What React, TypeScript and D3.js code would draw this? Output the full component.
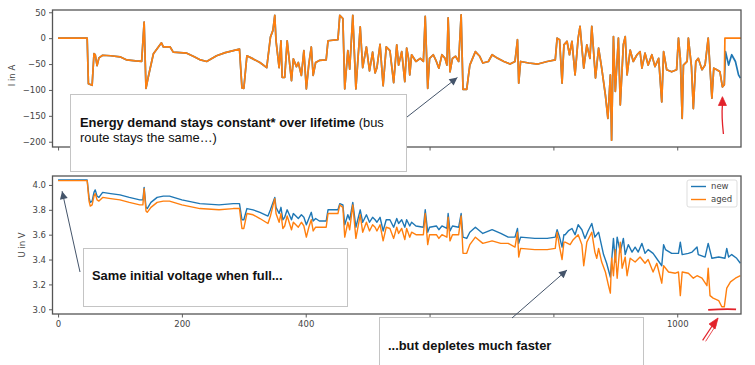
import React, { useEffect, useRef } from 'react';
import * as d3 from 'd3';

type Pt = [number, number];

// current in A, identical for both cells until the aged one cuts off
const currentShared: Pt[] = [
  [0, 0], [47, 0], [49, -88], [55, -91], [58, -30], [60, -32], [63, -53], [66, -38], [72, -33], [85, -34],
  [100, -36], [111, -42], [125, -44], [135, -45], [139, 31], [142, -97], [146, -73], [154, -30], [162, -17],
  [167, -9], [170, -17], [181, -17], [186, -27], [208, -29], [220, -36], [230, -42], [240, -45], [256, -34],
  [270, -28], [283, -24], [293, -21], [297, -96], [300, -97], [305, -34], [315, -40], [326, -47], [337, -57],
  [343, 2], [347, 15], [350, 44], [352, -5], [357, -57], [360, -5], [362, -76], [366, -76], [370, -5],
  [377, -82], [380, -40], [385, -55], [388, -47], [393, -72], [397, -24], [401, -98], [405, -50], [409, -17],
  [412, -72], [416, -47], [422, -43], [433, -42], [436, -5], [452, -3], [455, 44], [460, 38], [463, -98],
  [468, -24], [471, -60], [476, 44], [481, -98], [488, 22], [492, -57], [498, -17], [503, -63], [508, -27],
  [512, -67], [515, -57], [520, -12], [525, -92], [530, -17], [536, -24], [542, -86], [547, -13], [550, -52],
  [555, -26], [560, -84], [563, -19], [566, -39], [568, -71], [571, -32], [578, -45], [585, -39], [590, -45],
  [593, 42], [597, -97], [600, -39], [606, -32], [611, -45], [615, -58], [620, -32], [625, -39], [628, -52],
  [630, 39], [633, -65], [637, -39], [642, -35], [647, -45], [651, 45], [654, -99], [660, -99], [665, -52],
  [674, -26], [681, -35], [686, -48], [695, -45], [701, -32], [710, -39], [720, -45], [730, -50], [738, -45],
  [742, -3], [744, -87], [747, -45], [760, -48], [775, -50], [790, -45], [803, -42], [806, 0], [810, -3],
  [814, -87], [817, -13], [822, -6], [826, -32], [830, -6], [835, -71], [840, 0], [843, 23], [849, -58],
  [854, -13], [859, -39], [862, 23], [868, -77], [873, -19], [878, -58], [884, -110], [888, -155], [892, -71],
  [894, -197], [897, 3], [900, -103], [905, 0], [908, -129], [913, -12], [916, 3], [919, -71], [924, -23],
  [929, -45], [935, -32], [940, -26], [943, -58], [948, -29], [953, -52], [959, -32], [964, -55], [970, -39],
  [975, -123], [978, -26], [983, -61], [991, -65], [999, -61], [1002, 0], [1005, -39], [1008, -155],
  [1010, -52], [1016, -45], [1018, 0], [1023, -55], [1026, -136], [1030, -45], [1034, -39], [1040, -61],
  [1045, -52], [1050, 0], [1056, -116], [1059, -58], [1064, -61], [1069, -65], [1073, -94], [1076, -90],
];
const currentNewTail: Pt[] = [[1078, -26], [1083, -52], [1088, -32], [1094, -45], [1099, -71], [1102, -77]];
const currentAgedTail: Pt[] = [[1077, 0], [1103, 0]];

// terminal voltage in V
const voltageNew: Pt[] = [
  [0, 4.04], [47, 4.04], [50, 3.9], [52, 3.86], [55, 3.87], [58, 3.94], [60, 3.96], [63, 3.91], [66, 3.9],
  [72, 3.94], [85, 3.93], [100, 3.92], [115, 3.9], [132, 3.88], [137, 3.88], [139, 3.98], [142, 3.82],
  [144, 3.81], [150, 3.86], [160, 3.9], [170, 3.91], [180, 3.91], [200, 3.88], [229, 3.85], [260, 3.84],
  [283, 3.85], [293, 3.85], [297, 3.72], [300, 3.72], [305, 3.81], [315, 3.8], [326, 3.78], [339, 3.75],
  [343, 3.8], [350, 3.9], [352, 3.82], [357, 3.77], [360, 3.82], [363, 3.72], [366, 3.74], [370, 3.8],
  [377, 3.72], [380, 3.77], [388, 3.73], [393, 3.76], [397, 3.74], [401, 3.68], [405, 3.73], [409, 3.78],
  [412, 3.71], [416, 3.73], [422, 3.71], [433, 3.71], [436, 3.8], [452, 3.8], [455, 3.85], [460, 3.84],
  [463, 3.68], [468, 3.76], [471, 3.72], [476, 3.86], [481, 3.66], [488, 3.8], [492, 3.7], [498, 3.76],
  [503, 3.7], [508, 3.74], [512, 3.72], [515, 3.7], [520, 3.74], [525, 3.63], [530, 3.72], [536, 3.72],
  [542, 3.66], [547, 3.73], [550, 3.69], [555, 3.72], [560, 3.66], [563, 3.72], [568, 3.67], [571, 3.7],
  [578, 3.67], [590, 3.66], [593, 3.8], [597, 3.62], [600, 3.66], [611, 3.67], [615, 3.64], [620, 3.67],
  [628, 3.65], [630, 3.77], [633, 3.63], [637, 3.67], [647, 3.66], [651, 3.77], [654, 3.58], [660, 3.57],
  [665, 3.62], [674, 3.66], [686, 3.61], [701, 3.64], [715, 3.61], [727, 3.58], [738, 3.58], [742, 3.65],
  [744, 3.53], [747, 3.58], [770, 3.57], [790, 3.57], [803, 3.58], [806, 3.64], [810, 3.58], [814, 3.5],
  [817, 3.6], [819, 3.6], [824, 3.63], [830, 3.65], [835, 3.6], [840, 3.68], [846, 3.64], [851, 3.57],
  [856, 3.63], [862, 3.69], [867, 3.58], [873, 3.62], [881, 3.44], [886, 3.37], [892, 3.26], [897, 3.57],
  [900, 3.38], [903, 3.58], [908, 3.46], [913, 3.57], [916, 3.44], [921, 3.52], [927, 3.46], [932, 3.5],
  [937, 3.46], [943, 3.53], [948, 3.45], [953, 3.48], [961, 3.45], [975, 3.35], [978, 3.52], [981, 3.48],
  [991, 3.45], [1002, 3.45], [1005, 3.54], [1008, 3.44], [1018, 3.45], [1024, 3.46], [1032, 3.5],
  [1034, 3.44], [1045, 3.42], [1050, 3.53], [1056, 3.41], [1067, 3.42], [1077, 3.41], [1080, 3.49],
  [1083, 3.42], [1088, 3.44], [1096, 3.41], [1102, 3.37],
];
const voltageAged: Pt[] = [
  [0, 4.035], [47, 4.035], [50, 3.87], [52, 3.83], [55, 3.84], [58, 3.91], [60, 3.93], [63, 3.88], [66, 3.87],
  [72, 3.9], [85, 3.89], [100, 3.88], [115, 3.86], [132, 3.84], [137, 3.84], [139, 3.97], [142, 3.79],
  [144, 3.78], [150, 3.82], [160, 3.86], [170, 3.87], [180, 3.87], [200, 3.84], [229, 3.81], [260, 3.8],
  [283, 3.81], [293, 3.81], [297, 3.65], [300, 3.65], [305, 3.77], [315, 3.76], [326, 3.73], [339, 3.69],
  [343, 3.75], [350, 3.89], [352, 3.77], [357, 3.7], [360, 3.77], [363, 3.65], [366, 3.67], [370, 3.75],
  [377, 3.64], [380, 3.7], [388, 3.66], [393, 3.7], [397, 3.67], [401, 3.58], [405, 3.66], [409, 3.72],
  [412, 3.63], [416, 3.66], [422, 3.66], [433, 3.66], [436, 3.77], [452, 3.77], [455, 3.84], [460, 3.82],
  [463, 3.58], [468, 3.7], [471, 3.64], [476, 3.84], [481, 3.57], [488, 3.76], [492, 3.62], [498, 3.7],
  [503, 3.63], [508, 3.68], [512, 3.66], [515, 3.63], [520, 3.68], [525, 3.55], [530, 3.66], [536, 3.65],
  [542, 3.57], [547, 3.66], [550, 3.61], [555, 3.65], [560, 3.56], [563, 3.65], [568, 3.58], [571, 3.62],
  [578, 3.6], [590, 3.6], [593, 3.77], [597, 3.52], [600, 3.6], [611, 3.6], [615, 3.57], [620, 3.6],
  [628, 3.58], [630, 3.74], [633, 3.55], [637, 3.6], [647, 3.6], [651, 3.75], [654, 3.45], [660, 3.45],
  [665, 3.52], [674, 3.58], [686, 3.53], [701, 3.55], [715, 3.53], [727, 3.53], [738, 3.5], [742, 3.62],
  [744, 3.42], [747, 3.49], [770, 3.48], [790, 3.48], [803, 3.49], [806, 3.62], [810, 3.5], [814, 3.4],
  [817, 3.54], [819, 3.54], [827, 3.52], [832, 3.56], [840, 3.6], [846, 3.52], [849, 3.35], [854, 3.54],
  [862, 3.62], [867, 3.46], [870, 3.41], [873, 3.49], [878, 3.38], [884, 3.3], [889, 3.19], [892, 3.13],
  [894, 3.41], [897, 3.27], [900, 3.48], [903, 3.25], [908, 3.54], [911, 3.33], [916, 3.42], [919, 3.27],
  [924, 3.41], [932, 3.38], [940, 3.42], [948, 3.37], [953, 3.4], [961, 3.3], [967, 3.37], [975, 3.21],
  [978, 3.35], [986, 3.3], [997, 3.29], [1002, 3.3], [1005, 3.11], [1008, 3.3], [1018, 3.29], [1026, 3.25],
  [1032, 3.27], [1040, 3.25], [1048, 3.19], [1050, 3.33], [1053, 3.11], [1058, 3.09], [1067, 3.07],
  [1072, 3.02], [1076, 3.02], [1080, 3.17], [1086, 3.22], [1094, 3.25], [1102, 3.27],
];

const xTicks = [0, 200, 400, 600, 800, 1000];
const currentTicks = [50, 0, -50, -100, -150, -200];
const voltageTicks = [4.0, 3.8, 3.6, 3.4, 3.2, 3.0];
const seriesNames = ['new', 'aged'];
const seriesColors = ['#1f77b4', '#ff7f0e'];

const W = 755;
const H = 365;
const AX_FONT = 'DejaVu Sans, sans-serif';
const NOTE_FONT = 'Liberation Sans, Arial, sans-serif';
const NOTE_SIZE = '12.9px';
const SLATE = '#44546a';
const RED = '#e2222a';

const App: React.FC = () => {
  const ref = useRef<SVGSVGElement>(null);

  useEffect(() => {
    if (!ref.current) return;
    const svg = d3.select(ref.current);
    svg.selectAll('*').remove();

    const left = 52.5;
    const right = 741;
    const top1 = 10, bot1 = 147;
    const top2 = 176, bot2 = 314;

    const x = d3.scaleLinear().domain([-9, 1103]).range([left, right]);
    const yI = d3.scaleLinear().domain([-210.2, 54.4]).range([bot1, top1]);
    const yU = d3.scaleLinear().domain([2.962, 4.072]).range([bot2, top2]);

    const defs = svg.append('defs');
    defs.append('clipPath').attr('id', 'c1').append('rect')
      .attr('x', left).attr('y', top1).attr('width', right - left).attr('height', bot1 - top1);
    defs.append('clipPath').attr('id', 'c2').append('rect')
      .attr('x', left).attr('y', top2).attr('width', right - left).attr('height', bot2 - top2);
    defs.append('marker')
      .attr('id', 'head')
      .attr('viewBox', '0 0 10 10')
      .attr('refX', 10).attr('refY', 5)
      .attr('markerUnits', 'userSpaceOnUse')
      .attr('markerWidth', 9).attr('markerHeight', 8)
      .attr('orient', 'auto')
      .append('path').attr('d', 'M0,0 L10,5 L0,10 z').attr('fill', SLATE);

    const lineI = d3.line<Pt>().x(d => x(d[0])).y(d => yI(d[1]));
    const lineU = d3.line<Pt>().x(d => x(d[0])).y(d => yU(d[1]));

    const styleAxis = (g: d3.Selection<SVGGElement, unknown, null, undefined>) => {
      g.select('.domain').remove();
      g.selectAll('.tick line').attr('stroke', '#333').attr('stroke-width', 0.8);
      g.selectAll('.tick text')
        .attr('fill', '#444')
        .style('font-family', AX_FONT)
        .style('font-size', '8.5px');
    };

    // top panel: current
    const p1 = svg.append('g');
    p1.append('g').attr('transform', `translate(${left},0)`)
      .call(d3.axisLeft(yI).tickValues(currentTicks).tickSize(3.5).tickPadding(3).tickFormat(d3.format('d')))
      .call(styleAxis);
    p1.append('g').attr('transform', `translate(0,${bot1})`)
      .call(d3.axisBottom(x).tickValues(xTicks).tickSize(3.5).tickFormat(() => ''))
      .call(styleAxis);
    const l1 = p1.append('g').attr('clip-path', 'url(#c1)').attr('fill', 'none')
      .attr('stroke-width', 1.7).attr('stroke-linejoin', 'round');
    l1.append('path').attr('d', lineI(currentShared.concat(currentNewTail))).attr('stroke', seriesColors[0]);
    l1.append('path').attr('d', lineI(currentShared.concat(currentAgedTail))).attr('stroke', seriesColors[1]);
    p1.append('rect').attr('x', left).attr('y', top1).attr('width', right - left).attr('height', bot1 - top1)
      .attr('fill', 'none').attr('stroke', '#555').attr('stroke-width', 1.3);
    p1.append('text').attr('transform', `translate(15,${(top1 + bot1) / 2 - 3}) rotate(-90)`)
      .attr('text-anchor', 'middle').attr('fill', '#444')
      .style('font-family', AX_FONT).style('font-size', '8.5px').text('I in A');

    // bottom panel: voltage
    const p2 = svg.append('g');
    p2.append('g').attr('transform', `translate(${left},0)`)
      .call(d3.axisLeft(yU).tickValues(voltageTicks).tickSize(3.5).tickPadding(3).tickFormat(d3.format('.1f')))
      .call(styleAxis);
    p2.append('g').attr('transform', `translate(0,${bot2})`)
      .call(d3.axisBottom(x).tickValues(xTicks).tickSize(3.5).tickPadding(3).tickFormat(d3.format('d')))
      .call(styleAxis);
    const l2 = p2.append('g').attr('clip-path', 'url(#c2)').attr('fill', 'none')
      .attr('stroke-width', 1.4).attr('stroke-linejoin', 'round');
    l2.append('path').attr('d', lineU(voltageNew)).attr('stroke', seriesColors[0]);
    l2.append('path').attr('d', lineU(voltageAged)).attr('stroke', seriesColors[1]);
    p2.append('rect').attr('x', left).attr('y', top2).attr('width', right - left).attr('height', bot2 - top2)
      .attr('fill', 'none').attr('stroke', '#555').attr('stroke-width', 1.3);
    p2.append('text').attr('transform', `translate(25,${(top2 + bot2) / 2}) rotate(-90)`)
      .attr('text-anchor', 'middle').attr('fill', '#444')
      .style('font-family', AX_FONT).style('font-size', '8.5px').text('U in V');

    // legend
    const lg = p2.append('g').attr('transform', 'translate(687,180)');
    lg.append('rect').attr('width', 50).attr('height', 27).attr('rx', 2)
      .attr('fill', 'white').attr('fill-opacity', 0.85).attr('stroke', '#d4d4d4').attr('stroke-width', 0.8);
    seriesNames.forEach((name, i) => {
      const yy = 6.5 + i * 13;
      lg.append('line').attr('x1', 4).attr('x2', 19).attr('y1', yy).attr('y2', yy)
        .attr('stroke', seriesColors[i]).attr('stroke-width', 1.4);
      lg.append('text').attr('x', 24).attr('y', yy).attr('dy', '0.35em').attr('fill', '#444')
        .style('font-family', AX_FONT).style('font-size', '8.5px').text(name);
    });

    // annotation boxes
    const notes = svg.append('g');
    const box = (bx: number, by: number, bw: number, bh: number) =>
      notes.append('rect').attr('x', bx).attr('y', by).attr('width', bw).attr('height', bh)
        .attr('fill', 'white').attr('stroke', '#c4c4c4').attr('stroke-width', 1);
    const arrow = (x1: number, y1: number, x2: number, y2: number) =>
      notes.append('line').attr('x1', x1).attr('y1', y1).attr('x2', x2).attr('y2', y2)
        .attr('stroke', SLATE).attr('stroke-width', 1).attr('marker-end', 'url(#head)');

    box(70.5, 94.5, 336, 77);
    const t1 = notes.append('text').attr('x', 80).attr('y', 127).attr('fill', '#111')
      .style('font-family', NOTE_FONT).style('font-size', NOTE_SIZE);
    t1.append('tspan').attr('font-weight', 'bold').text('Energy demand stays constant* over lifetime');
    t1.append('tspan').text(' (bus');
    notes.append('text').attr('x', 80).attr('y', 142).attr('fill', '#111')
      .style('font-family', NOTE_FONT).style('font-size', NOTE_SIZE).text('route stays the same…)');
    arrow(407, 117, x(645), yI(-76));

    box(83.5, 248.5, 264, 58);
    notes.append('text').attr('x', 92).attr('y', 280).attr('fill', '#111').attr('font-weight', 'bold')
      .style('font-family', NOTE_FONT).style('font-size', NOTE_SIZE).text('Same initial voltage when full...');
    arrow(80, 272, x(6.5), yU(3.95));

    box(379.5, 317.5, 264, 60);
    notes.append('text').attr('x', 388).attr('y', 350).attr('fill', '#111').attr('font-weight', 'bold')
      .style('font-family', NOTE_FONT).style('font-size', NOTE_SIZE).text('...but depletes much faster');
    arrow(512, 318, x(822), yU(3.316));

    // red hand-drawn marks
    const red = svg.append('g').attr('stroke', RED).attr('fill', RED);
    const rx = x(1073);
    red.append('path').attr('d', `M${rx + 1},${yI(-185)} Q${rx - 1},${yI(-150)} ${rx},${yI(-128)}`)
      .attr('fill', 'none').attr('stroke-width', 1.3);
    red.append('path').attr('d', `M${rx - 4},${yI(-130)} L${rx},${yI(-113)} L${rx + 4},${yI(-130)} Z`)
      .attr('stroke-width', 0.8);
    red.append('path').attr('d', `M${x(1050)},${yU(2.995)} Q${x(1075)},${yU(3.005)} ${x(1095)},${yU(3.0)}`)
      .attr('fill', 'none').attr('stroke-width', 1.8);
    const ax1 = x(1041), ay1 = yU(2.75), ax2 = x(1066), ay2 = yU(2.93);
    red.append('line').attr('x1', ax1).attr('y1', ay1).attr('x2', ax2 - 4).attr('y2', ay2 + 5)
      .attr('stroke-width', 1.2);
    red.append('path').attr('d', `M${ax2 - 9},${ay2 + 6} L${ax2},${ay2} L${ax2 - 3},${ay2 + 11} Z`)
      .attr('stroke-width', 0.8);
    red.append('line').attr('x1', ax1 + 3).attr('y1', ay1 + 1).attr('x2', ax2 - 2).attr('y2', ay2 + 7)
      .attr('stroke-width', 0.8);
  }, []);

  return (
    <svg
      ref={ref}
      width={W}
      height={H}
      style={{ position: 'absolute', left: 0, top: 0, background: 'white' }}
    />
  );
};

export default App;
